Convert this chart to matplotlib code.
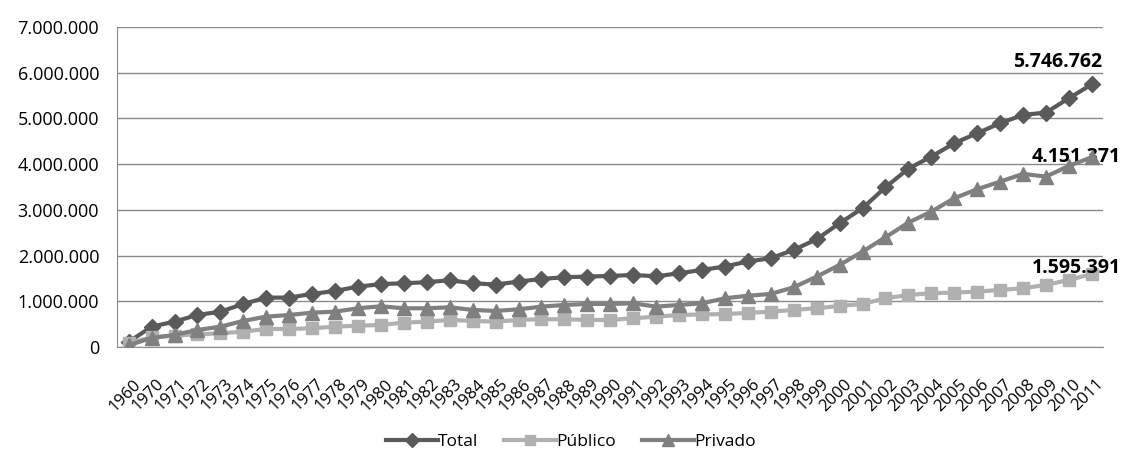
import matplotlib.pyplot as plt
import matplotlib.transforms as mtransforms
from matplotlib.ticker import FuncFormatter

# Matrículas por año: total, sector público y sector privado
years = ["1960"] + [str(y) for y in range(1970, 2012)]

total = [110000, 444000, 554000, 700000, 772000, 941000, 1079000, 1080000, 1160000,
         1225000, 1320000, 1375000, 1394000, 1416000, 1460000, 1394000, 1365000,
         1430000, 1488000, 1525000, 1540000, 1554000, 1575000, 1545000, 1612000,
         1685000, 1760000, 1870000, 1941000, 2123000, 2357000, 2707000, 3035000,
         3495000, 3900000, 4164000, 4457000, 4676000, 4895000, 5077000, 5128000,
         5442000, 5746762]

publico = [85000, 210000, 250000, 275000, 300000, 335000, 394000, 394000, 409000,
           444000, 466000, 481000, 532000, 554000, 591000, 569000, 554000, 591000,
           606000, 606000, 591000, 591000, 628000, 663000, 700000, 710000, 720000,
           745000, 773000, 810000, 846000, 897000, 941000, 1065000, 1138000,
           1175000, 1189000, 1211000, 1247000, 1284000, 1357000, 1466000, 1595391]

privado = [40000, 195000, 263000, 372000, 444000, 570000, 663000, 700000, 750000,
           772000, 846000, 890000, 846000, 846000, 868000, 810000, 788000, 824000,
           882000, 919000, 941000, 941000, 955000, 882000, 919000, 955000, 1065000,
           1120000, 1160000, 1306000, 1538000, 1794000, 2086000, 2400000, 2720000,
           2961000, 3254000, 3451000, 3617000, 3786000, 3727000, 3961000, 4151371]

c_total = "#5a5a5a"
c_pub = "#b0b0b0"
c_priv = "#808080"

plt.rcParams["font.family"] = ["Open Sans", "DejaVu Sans"]

fig = plt.figure(figsize=(11.27, 4.5), dpi=100)
ax = fig.add_axes([0.104, 0.229, 0.875, 0.711])

x = list(range(len(years)))
ax.plot(x, total, color=c_total, lw=3, marker="D", ms=8, label="Total", zorder=3)
ax.plot(x, publico, color=c_pub, lw=3, marker="s", ms=8, label="Público", zorder=3)
ax.plot(x, privado, color=c_priv, lw=3, marker="^", ms=10, label="Privado", zorder=4)


def miles(v, pos):
    return f"{int(v):,}".replace(",", ".")


ax.set_ylim(0, 7000000)
ax.set_xlim(-0.5, len(years) - 0.5)
ax.set_yticks(range(0, 7000001, 1000000))
ax.yaxis.set_major_formatter(FuncFormatter(miles))
ax.set_xticks(x)
ax.set_xticklabels(years, rotation=45, ha="right", rotation_mode="anchor")
ax.tick_params(axis="both", length=0, colors="black")
ax.tick_params(axis="x", pad=21, labelsize=12)
ax.tick_params(axis="y", pad=13, labelsize=13)

# años un poco a la derecha de su posición
shift = mtransforms.ScaledTranslation(4 / 100, 0, fig.dpi_scale_trans)
for lbl in ax.get_xticklabels():
    lbl.set_transform(lbl.get_transform() + shift)

ax.grid(axis="y", color="#8a8a8a", lw=1)
ax.set_axisbelow(True)
for side in ["top", "right"]:
    ax.spines[side].set_visible(False)
ax.spines["left"].set_color("#8a8a8a")
ax.spines["bottom"].set_color("#8a8a8a")

# valores finales de cada serie
last = len(years) - 1
ax.annotate(miles(total[-1], None), (last, total[-1]), xytext=(-25, 16),
            textcoords="offset points", ha="center", va="center",
            fontsize=14, fontweight="bold")
ax.annotate(miles(privado[-1], None), (last, privado[-1]), xytext=(-11, 0),
            textcoords="offset points", ha="center", va="center",
            fontsize=14, fontweight="bold")
ax.annotate(miles(publico[-1], None), (last, publico[-1]), xytext=(-11, 4),
            textcoords="offset points", ha="center", va="center",
            fontsize=14, fontweight="bold")

ax.legend(loc="lower center", bbox_to_anchor=(0.46, -0.37), ncol=3, frameon=False,
          fontsize=12.5, handlelength=3, handletextpad=0, columnspacing=1.5,
          markerscale=0.9)

fig.savefig("out.png", dpi=100)
